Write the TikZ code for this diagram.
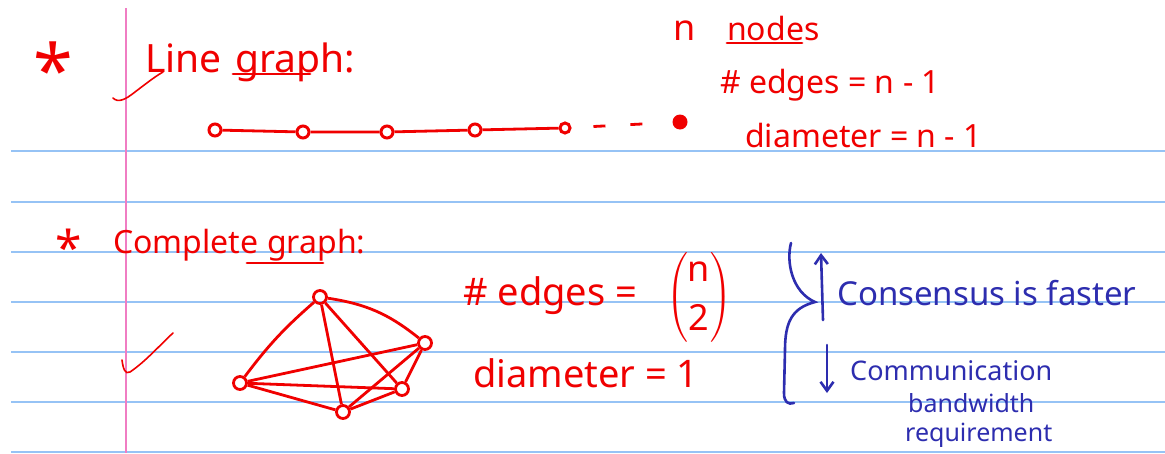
\RequirePackage{fix-cm}
\documentclass[tikz,border=0pt]{standalone}
\usepackage{amsmath}
\usepackage{fontspec}
\setmainfont{Noto Sans}
\usetikzlibrary{arrows.meta}
\definecolor{ink}{RGB}{240,0,0}
\definecolor{bink}{RGB}{45,45,175}
\definecolor{ruleblue}{RGB}{150,195,245}
\definecolor{marginpink}{RGB}{240,125,195}
\begin{document}
\begin{tikzpicture}[x=1pt,y=-1pt,
  txt/.style={anchor=base west, inner sep=0pt, text=ink, font=\fontsize{32}{38}\selectfont},
  bigtxt/.style={txt, font=\fontsize{38}{44}\selectfont},
  btxt/.style={anchor=base west, inner sep=0pt, text=bink, font=\fontsize{25}{30}\selectfont},
  startxt/.style={inner sep=0pt, text=ink},
  lnode/.style={circle, draw=ink, line width=3pt, minimum size=12pt, inner sep=0pt},
  ldot/.style={circle, fill=ink, minimum size=15pt, inner sep=0pt},
  cnode/.style={circle, draw=ink, line width=2.8pt, minimum size=13pt, inner sep=0pt},
  edge/.style={draw=ink, line width=2.8pt},
  pen/.style={draw=ink, line width=2.8pt, line cap=round},
  thinpen/.style={draw=ink, line width=1.6pt, line cap=round},
  bpen/.style={draw=bink, line width=2.6pt, line cap=round},
  barrow/.style={bpen, -{Straight Barb[length=9pt, width=13pt, line width=2.6pt]}},
  ruling/.style={draw=ruleblue, line width=1.6pt},
]
\useasboundingbox (0,0) rectangle (1165,453);
\fill[white] (0,0) rectangle (1165,453);
% notebook ruling
\foreach \yy in {151,202,252,302,352,402,452} \draw[ruling] (11,\yy) -- (1165,\yy);
\draw[draw=marginpink, line width=2.4pt] (126,8) -- (126,453);

% ---- Line graph ----
\node[startxt, font=\fontsize{72}{72}\selectfont] (s1) at (53,69) {*};
\node[txt, font=\fontsize{39}{44}\selectfont] (lg1) at (145,72) {Line};
\node[txt, font=\fontsize{39}{44}\selectfont] (lg2) at (235,72) {graph:};
\draw[pen] (233,74) -- (310,74);
\draw[thinpen] (113,98) .. controls (118,103) and (125,100) .. (135,92) .. controls (148,82) and (156,76) .. (163,72);

\node[lnode] (l1) at (215,130) {};
\node[lnode] (l2) at (303,132) {};
\node[lnode] (l3) at (387,132) {};
\node[lnode] (l4) at (475,130) {};
\node[lnode, minimum size=10pt] (l5) at (565,128) {};
\node[ldot] (l6) at (680,122) {};
\draw[edge] (l1) -- (l2) -- (l3) -- (l4) -- (l5);
\draw[edge, dash pattern=on 0pt off 22pt on 12pt off 25pt on 12pt off 80pt] (l5) -- (l6);

\node[txt, font=\fontsize{36}{40}\selectfont] (nn) at (673,40) {n};
\node[txt] (nodes) at (727,40) {nodes};
\draw[pen] (727,43) -- (802,43);
\node[txt] (e1) at (720,93) {\# edges = n - 1};
\node[txt] (d1) at (745,147) {diameter = n - 1};

% ---- Complete graph ----
\node[startxt, font=\fontsize{48}{48}\selectfont] (s2) at (69,247) {*};
\node[txt] (cg1) at (113,253) {Complete};
\node[txt] (cg2) at (267,253) {graph:};
\draw[pen] (247,263) -- (323,263);
\draw[thinpen] (122,360) .. controls (123,368) and (125,375) .. (130,372) .. controls (145,362) and (160,345) .. (173,333);

\node[cnode] (t) at (320,297) {};
\node[cnode] (r) at (425,343) {};
\node[cnode] (L) at (240,383) {};
\node[cnode] (br) at (402,389) {};
\node[cnode] (b) at (343,412) {};
\draw[edge] (t) to[bend right=6] (L);
\draw[edge] (t) to[bend left=15] (r);
\draw[edge] (t) -- (b);
\draw[edge] (t) -- (br);
\draw[edge] (L) -- (r);
\draw[edge] (L) -- (b);
\draw[edge] (L) -- (br);
\draw[edge] (r) -- (b);
\draw[edge] (r) -- (br);
\draw[edge] (b) -- (br);

\node[bigtxt] (e2) at (463,305) {\# edges =};
\node[inner sep=0pt, text=ink, font=\fontsize{36}{40}\selectfont] (bin) at (699,297) {$\displaystyle\binom{\text{n}}{\text{2}}$};
\node[bigtxt] (d2) at (473,387) {diameter = 1};

% ---- blue annotation ----
\draw[bpen] (791,243) .. controls (786,262) and (792,292) .. (815,302)
  .. controls (792,308) and (785,322) .. (785,350) -- (784,393)
  .. controls (784,402) and (788,405) .. (794,403);
\coordinate (ua0) at (823,320);
\coordinate (ua1) at (821,253);
\draw[barrow] (ua0) -- (ua1);
\coordinate (da0) at (827,345);
\coordinate (da1) at (827,393);
\draw[barrow] (da0) -- (da1);
\node[btxt, font=\fontsize{33}{38}\selectfont] (cf) at (837,305) {Consensus is faster};
\node[btxt, font=\fontsize{27}{32}\selectfont] (cm) at (850,380) {Communication};
\node[btxt] (bw) at (908,412) {bandwidth};
\node[btxt] (rq) at (905,441) {requirement};
\end{tikzpicture}
\end{document}
